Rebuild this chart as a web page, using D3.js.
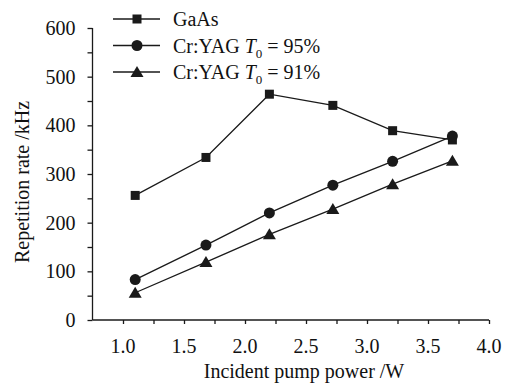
<!DOCTYPE html>
<html>
<head>
<meta charset="utf-8">
<script src="https://cdn.jsdelivr.net/npm/d3@7"></script>
<style>
  body { margin: 0; background: #fff; }
  svg text { font-family: "Liberation Serif", "Times New Roman", Times, "DejaVu Serif", serif; fill: #111; }
</style>
</head>
<body>
<svg width="506" height="388"></svg>
<script>
"use strict";

// pump power (W)
var power = [1.1, 1.68, 2.2, 2.72, 3.21, 3.7];
// repetition rate (kHz)
var gaas = [256, 334, 464, 441, 389, 370];
var cr95 = [83, 154, 220, 277, 326, 378];
var cr91 = [56, 119, 176, 228, 279, 327];

var xTicks = [1.0, 1.5, 2.0, 2.5, 3.0, 3.5, 4.0];
var yTicks = [0, 100, 200, 300, 400, 500, 600];

var series = [
  {name: "GaAs", values: gaas, marker: "square"},
  {name: "Cr:YAG", t0: "95%", values: cr95, marker: "circle"},
  {name: "Cr:YAG", t0: "91%", values: cr91, marker: "triangle"}
];

var serif = "'Liberation Serif', 'Times New Roman', Times, 'DejaVu Serif', serif";
var svg = d3.select("svg");
var x = d3.scaleLinear().domain([0.75, 4.0]).range([92.5, 489]);
var y = d3.scaleLinear().domain([0, 600]).range([320, 28]);

var ink = "#1a1a1a";

// axes
var gx = svg.append("g").attr("transform", "translate(0,320)");
gx.call(d3.axisBottom(x).tickValues(d3.range(1.0, 4.01, 0.25)).tickSize(4).tickFormat(""));
gx.attr("font-family", null);
gx.selectAll(".tick text").remove();
gx.selectAll("text.lab").data(xTicks).enter().append("text")
  .attr("x", function(d) { return x(d); })
  .attr("y", 33)
  .attr("text-anchor", "middle")
  .style("font-family", serif)
  .style("font-size", "20px")
  .text(function(d) { return d.toFixed(1); });

var gy = svg.append("g").attr("transform", "translate(92.5,0)");
gy.call(d3.axisLeft(y).tickValues(d3.range(0, 601, 50)).tickSize(5).tickFormat(""));
gy.attr("font-family", null);
gy.selectAll(".tick text").remove();
gy.selectAll("text.lab").data(yTicks).enter().append("text")
  .attr("x", -17)
  .attr("y", function(d) { return y(d) + 7; })
  .attr("text-anchor", "end")
  .style("font-family", serif)
  .style("font-size", "20px")
  .text(function(d) { return d; });

svg.selectAll(".domain, .tick line").attr("stroke", ink).attr("stroke-width", 1.3);
gx.select(".domain").attr("d", "M92.5,0H489");
gy.select(".domain").attr("d", "M0,320V28");

// axis titles
svg.append("text")
  .attr("x", 304).attr("y", 378)
  .attr("text-anchor", "middle")
  .style("font-family", serif)
  .style("font-size", "20px")
  .text("Incident pump power /W");
svg.append("text")
  .attr("transform", "translate(29,182) rotate(-90)")
  .attr("text-anchor", "middle")
  .style("font-family", serif)
  .style("font-size", "20px")
  .text("Repetition rate /kHz");

function drawMarker(g, type) {
  if (type == "square") {
    g.append("rect").attr("x", -4.5).attr("y", -4.5).attr("width", 9).attr("height", 9).attr("fill", ink);
  } else if (type == "circle") {
    g.append("circle").attr("r", 5.5).attr("fill", ink);
  } else {
    g.append("path").attr("d", "M0,-6L6.5,5L-6.5,5Z").attr("fill", ink);
  }
}

var line = d3.line()
  .x(function(d) { return x(d[0]); })
  .y(function(d) { return y(d[1]); });

series.forEach(function(s) {
  var pts = power.map(function(p, i) { return [p, s.values[i]]; });
  svg.append("path")
    .attr("d", line(pts))
    .attr("fill", "none")
    .attr("stroke", ink)
    .attr("stroke-width", 1.3);
  pts.forEach(function(p) {
    var g = svg.append("g").attr("transform", "translate(" + x(p[0]) + "," + y(p[1]) + ")");
    drawMarker(g, s.marker);
  });
});

// legend
var legend = svg.append("g");
series.forEach(function(s, i) {
  var ly = 19 + i * 26.5;
  legend.append("line")
    .attr("x1", 113).attr("x2", 160).attr("y1", ly).attr("y2", ly)
    .attr("stroke", ink).attr("stroke-width", 1.3);
  drawMarker(legend.append("g").attr("transform", "translate(137," + ly + ")"), s.marker);
  var t = legend.append("text")
    .attr("x", 173).attr("y", ly + 7)
    .style("font-family", serif)
    .style("font-size", "20px");
  t.append("tspan").text(s.name);
  if (s.t0) {
    t.append("tspan").attr("dx", 5).style("font-style", "italic").text("T");
    t.append("tspan").attr("dy", 5).style("font-size", "13px").text("0");
    t.append("tspan").attr("dy", -5).text(" = " + s.t0);
  }
});
</script>
</body>
</html>
